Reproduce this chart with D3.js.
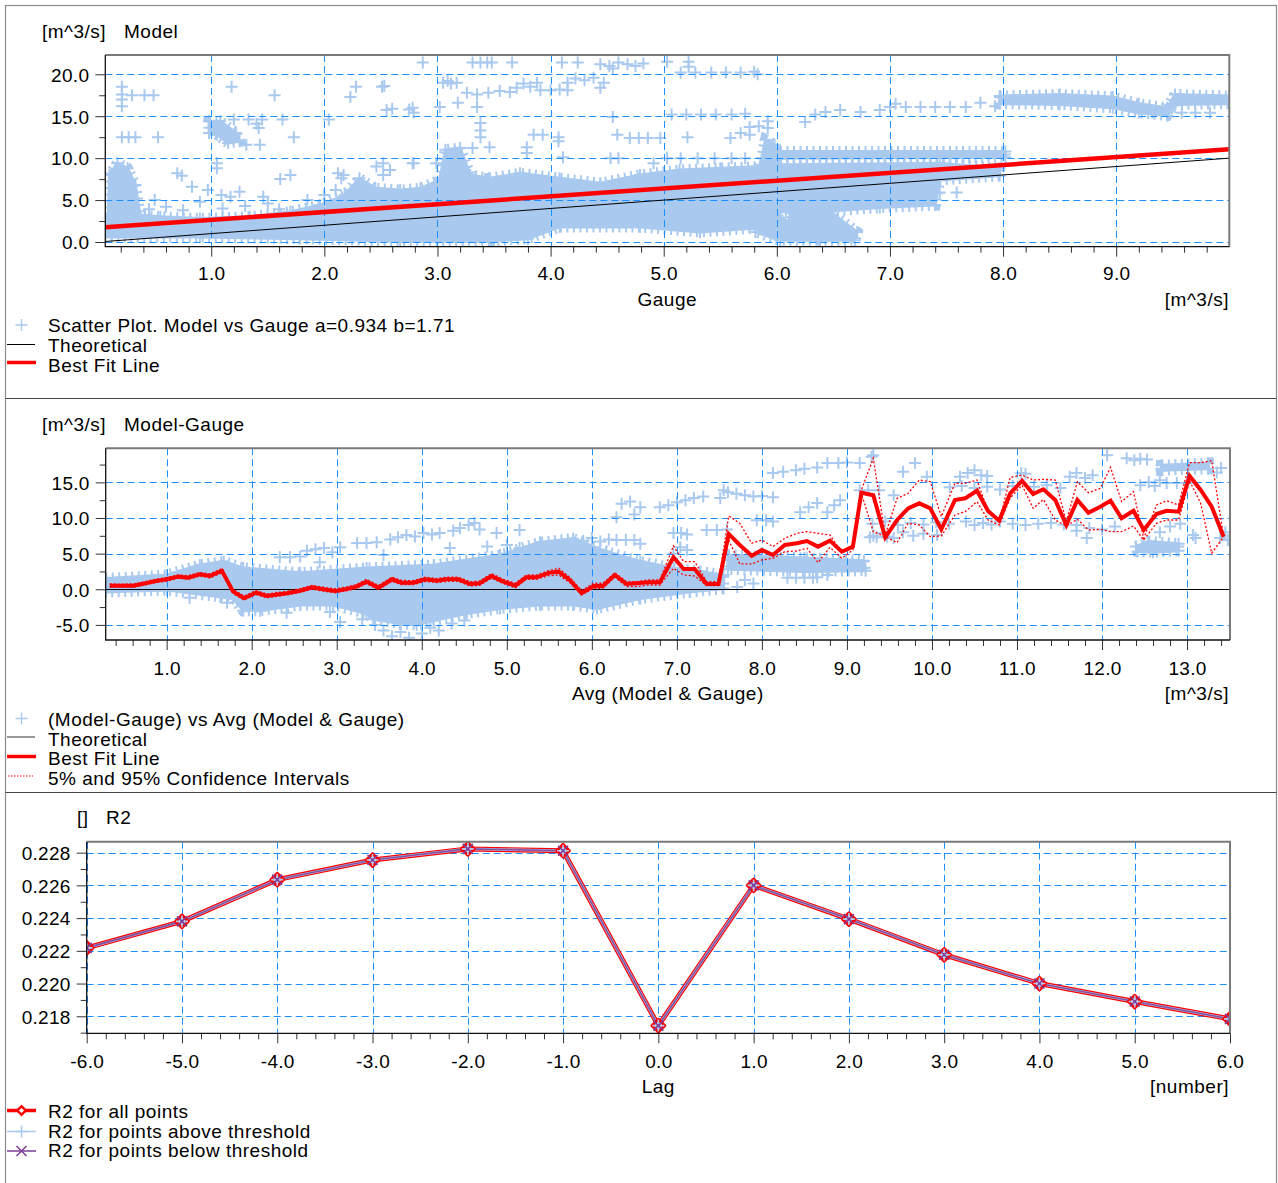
<!DOCTYPE html>
<html>
<head>
<meta charset="utf-8">
<title>Model vs Gauge</title>
<script src="https://cdn.jsdelivr.net/npm/d3@7/dist/d3.min.js"></script>
<style>
  html, body { margin: 0; padding: 0; background: #fff; }
  svg { display: block; }
  text { font-family: "Liberation Sans", Arial, Helvetica, sans-serif; font-size: 19px; fill: #000; letter-spacing: 0.5px; }
  .tick text { letter-spacing: 0.3px; }
</style>
</head>
<body>
<svg id="chart" width="1278" height="1183"></svg>
<script>
// ================= Panel 1: Model vs Gauge =================
const gaugeExtent = [0.0635, 10.0];
const modelExtent = [-0.56, 22.3];
const gaugeTicks = [1, 2, 3, 4, 5, 6, 7, 8, 9];
const modelTicks = [0, 5, 10, 15, 20];
const fitA = 0.934;
const fitB = 1.71;

// outlines of the dense clouds of overlapping points [gauge, model]
const gaugeClouds = [
  [[0.06,3.0],[0.28,3.3],[0.55,3.0],[0.90,2.8],[1.34,3.0],[1.70,3.6],[1.96,4.4],[2.18,5.6],[2.31,7.6],[2.45,6.4],[2.67,6.2],[2.85,6.4],[3.02,7.4],[3.07,11.0],[3.20,11.2],[3.29,8.0],[3.46,7.6],[3.46,0.1],[2.67,0.1],[1.78,0.4],[0.90,0.6],[0.06,0.6]],
  [[0.09,3.2],[0.10,8.0],[0.17,9.4],[0.26,8.8],[0.33,6.8],[0.37,3.2]],
  [[3.46,7.6],[3.73,8.2],[4.08,7.6],[4.44,7.0],[4.79,8.0],[5.14,8.6],[5.50,8.8],[5.85,9.0],[5.90,12.2],[5.98,11.6],[6.03,9.2],[6.03,1.2],[5.85,1.7],[5.32,1.2],[4.79,1.8],[4.08,1.8],[3.80,0.4],[3.46,0.1]],
  [[6.03,10.0],[6.03,10.8],[8.02,10.8],[8.02,10.1]],
  [[6.03,9.2],[7.44,9.4],[7.97,8.8],[7.97,7.9],[7.44,7.4],[7.40,4.4],[6.91,4.1],[6.38,3.6],[6.03,3.6]],
  [[6.12,3.6],[6.47,3.6],[6.71,1.2],[6.69,0.2],[6.38,0.2],[6.21,1.2],[6.12,2.4]],
  [[5.81,2.9],[6.21,2.4],[6.38,1.2],[6.38,0.2],[6.03,0.2],[5.81,1.2]],
  [[7.97,17.4],[8.50,17.6],[8.97,17.3],[9.20,16.5],[9.45,16.0],[9.52,17.6],[10.0,17.4],[10.0,16.5],[9.52,16.4],[9.45,15.1],[9.20,15.4],[8.97,16.0],[8.50,16.4],[7.97,16.5]],
  [[0.98,14.4],[1.08,14.4],[1.22,13.0],[1.25,12.0],[1.15,11.8],[1.05,12.8],[0.98,13.0]]
];

// scattered single points [gauge, model]
const gaugePoints = [
  [0.21,16.2],[0.21,17.0],[0.21,17.6],[0.21,18.5],[0.30,17.5],[0.41,17.5],[0.49,17.5],
  [0.21,12.5],[0.27,12.5],[0.33,12.5],[0.53,12.5],
  [1.20,14.6],[1.33,14.6],[1.45,14.6],[1.40,14.1],[1.42,13.6],[1.63,14.6],[1.73,12.5],[1.31,11.6],[1.43,11.6],
  [1.18,18.5],[1.56,17.5],
  [1.05,9.4],[1.05,8.8],[0.70,8.2],[0.74,7.9],[0.83,6.6],[0.97,6.2],[1.09,5.6],[1.17,5.4],[0.90,4.8],[1.25,6.0],[1.46,5.4],[1.61,7.5],[1.70,8.0],
  [0.15,4.5],[0.30,4.0],[0.45,3.9],[0.60,4.2],[0.75,3.8],[0.50,5.0],[1.10,4.0],[1.30,4.3],[1.50,4.6],[1.60,3.9],[1.85,5.0],[2.00,5.6],[2.10,6.2],
  [2.12,8.2],[2.15,7.6],[2.17,8.0],[2.23,17.3],[2.28,18.5],[2.04,14.6],[2.51,18.5],[2.53,18.6],[2.55,15.75],[2.60,15.9],[2.75,15.8],[2.79,15.4],
  [2.46,9.0],[2.52,9.4],[2.58,8.6],[2.52,8.0],[2.79,9.4],[2.26,5.5],[2.30,6.0],
  [2.87,21.4],[3.31,21.4],[3.38,21.4],[3.44,21.4],[3.48,21.4],[3.66,21.4],[4.10,21.4],[4.24,21.4],
  [4.44,21.2],[4.52,21.0],[4.60,21.4],[4.68,21.2],[4.75,21.0],[4.82,21.3],[4.55,20.7],[5.03,21.5],[5.22,21.5],[5.22,20.9],
  [5.15,20.2],[5.28,20.2],[5.42,20.2],[5.55,20.2],[5.68,20.2],[5.80,20.3],[5.83,20.0],
  [3.05,19.0],[3.09,19.2],[3.12,18.9],[3.17,19.0],
  [3.26,17.8],[3.35,17.6],[3.45,17.8],[3.55,18.0],
  [3.64,17.9],[3.70,18.4],[3.76,18.9],[3.82,18.5],[3.88,19.0],[3.91,18.1],[4.00,18.1],[4.08,18.2],[4.15,18.1],
  [4.15,19.0],[4.22,19.5],[4.30,19.3],[4.38,19.6],[4.47,19.0],[4.44,18.4],
  [2.78,16.0],[3.02,16.1],[3.18,16.6],[3.35,16.1],[4.55,14.9],
  [5.07,15.2],[5.20,15.2],[5.33,15.2],[5.46,15.2],[5.60,15.2],[5.72,15.3],[5.76,13.7],[5.84,13.8],[5.92,13.6],[5.92,14.4],
  [3.38,12.5],[3.38,13.3],[3.38,14.2],[3.85,12.8],[3.93,12.8],[4.07,12.0],[4.07,12.5],[4.59,12.8],[4.70,12.4],[4.78,12.4],[4.86,12.4],[4.97,12.4],[5.21,12.5],[5.59,12.4],[5.68,13.0],[5.76,12.8],
  [3.31,11.2],[3.46,11.3],[3.79,10.6],[3.79,11.3],[2.78,9.4],[2.99,9.4],[4.11,10.1],[4.53,10.0],[4.60,10.0],[4.91,9.4],
  [5.03,10.0],[5.15,10.0],[5.30,10.0],[5.45,10.0],[5.60,10.0],[5.72,10.0],
  [6.25,14.3],[6.34,15.2],[6.43,15.5],[6.56,15.75],[6.74,15.5],[6.91,15.75],
  [7.00,16.1],[7.05,16.5],[7.14,16.1],[7.27,16.1],[7.40,16.1],[7.53,16.1],[7.67,16.1],[7.80,16.6],[7.93,16.2],
  [9.32,15.4],[9.45,15.4],[9.58,15.4],[9.70,15.4],[9.83,15.4],
  [7.44,5.9],[7.59,5.9],[6.10,4.0],[6.20,5.0]
];

// ================= Panel 2: Model-Gauge vs Avg =================
const avgExtent = [0.283, 13.505];
const diffExtent = [-7.12, 19.78];
const avgTicks = [1, 2, 3, 4, 5, 6, 7, 8, 9, 10, 11, 12, 13];
const diffTicks = [-5, 0, 5, 10, 15];

// binned best-fit line with its 5% / 95% bands
const binAvg = [0.33,0.47,0.61,0.74,0.87,1.00,1.14,1.25,1.39,1.51,1.65,1.78,1.91,2.05,2.18,2.30,2.41,2.57,2.71,2.84,
  2.98,3.12,3.23,3.35,3.49,3.65,3.76,3.90,4.04,4.18,4.29,4.43,4.57,4.68,4.82,4.96,5.10,5.23,5.35,5.49,
  5.61,5.74,5.88,6.02,6.13,6.27,6.41,6.53,6.66,6.80,6.96,7.08,7.21,7.35,7.49,7.61,7.74,7.88,8.00,8.13,
  8.27,8.41,8.53,8.66,8.80,8.94,9.07,9.17,9.31,9.45,9.59,9.72,9.85,9.98,10.11,10.27,10.39,10.53,10.66,10.79,
  10.92,11.06,11.19,11.31,11.45,11.58,11.71,11.84,11.98,12.10,12.23,12.37,12.49,12.64,12.76,12.90,13.03,13.16,13.29,13.43];
const binFit = [0.50,0.50,0.50,0.80,1.15,1.40,1.77,1.63,2.10,1.87,2.60,-0.30,-1.26,-0.47,-0.94,-0.75,-0.56,-0.20,0.28,0.00,
  -0.24,0.04,0.37,1.07,0.23,1.40,0.93,0.93,1.40,1.21,1.40,1.40,0.74,0.84,1.87,1.07,0.50,1.68,1.68,2.30,
  2.47,1.30,-0.56,0.46,0.46,2.00,0.74,0.84,0.98,0.98,4.49,2.85,2.85,0.74,0.74,7.76,6.21,4.71,5.51,4.81,
  6.21,6.45,6.77,5.98,6.82,5.27,5.98,13.55,13.20,7.29,9.72,11.36,12.06,11.36,8.41,12.52,12.76,13.83,10.98,9.62,
  13.46,15.23,13.37,14.03,12.52,9.02,12.52,10.74,11.59,12.43,9.96,11.02,8.32,10.56,11.02,10.88,15.89,13.93,11.59,7.38];
const binUpper = [0.75,0.72,0.75,1.05,1.40,1.65,2.00,1.90,2.35,2.15,2.90,0.00,-0.95,-0.20,-0.65,-0.45,-0.30,0.10,0.55,0.30,
  0.05,0.35,0.65,1.40,0.55,1.70,1.25,1.20,1.70,1.50,1.70,1.70,1.05,1.15,2.20,1.40,0.85,2.00,2.00,2.60,
  2.94,1.68,-0.19,0.84,0.84,2.33,1.07,1.07,1.30,1.30,6.07,3.88,3.88,1.07,1.07,10.28,9.25,6.45,6.91,5.98,
  7.15,7.85,8.08,7.85,7.62,5.14,6.21,13.93,18.37,7.62,12.76,13.46,15.33,15.10,10.19,14.86,14.86,15.33,10.89,9.49,
  15.70,16.03,15.33,15.42,15.33,9.49,15.10,13.55,14.16,17.11,12.29,13.69,7.15,11.82,12.43,11.82,17.76,17.76,18.04,7.38];
const binLower = [0.30,0.30,0.28,0.60,0.95,1.15,1.55,1.40,1.85,1.60,2.30,-0.60,-1.50,-0.75,-1.20,-1.00,-0.80,-0.45,0.00,-0.25,
  -0.50,-0.20,0.10,0.80,-0.05,1.10,0.65,0.65,1.10,0.95,1.10,1.10,0.45,0.55,1.55,0.80,0.20,1.40,1.40,1.90,
  2.00,0.93,-0.80,0.14,0.14,1.68,0.37,0.37,0.60,0.60,2.94,2.00,1.86,0.51,0.51,6.91,3.55,3.55,4.11,4.34,
  5.28,5.37,5.75,3.74,5.89,4.34,5.51,13.46,8.08,7.38,6.54,9.26,9.02,7.38,7.48,10.43,10.89,12.29,9.72,9.02,
  12.80,14.60,11.36,12.60,9.72,8.88,9.82,8.32,8.41,8.08,8.08,8.88,6.91,9.26,9.72,9.72,15.20,12.06,5.04,7.38];

// dense clouds [avg, model-gauge]
const diffClouds = [
  [[0.28,1.5],[1.0,2.0],[1.39,3.4],[1.67,3.9],[1.90,3.0],[2.57,2.3],[3.35,3.0],[4.14,3.4],[4.92,4.8],[5.39,6.6],[5.78,7.1],[6.17,5.3],[6.57,3.9],[6.96,3.0],[7.27,2.5],[7.55,2.0],
   [7.55,0.1],[7.15,-0.4],[6.57,-1.3],[6.06,-2.7],[5.78,-2.2],[5.39,-2.2],[4.92,-2.7],[4.53,-3.4],[4.14,-4.4],[3.94,-5.0],[3.74,-4.8],[3.43,-4.2],[3.35,-3.4],[2.96,-2.2],[2.57,-2.2],[2.10,-3.0],[1.90,-3.0],[1.78,-1.3],[1.0,-0.1],[0.28,-0.4]],
  [[7.60,4.8],[8.5,4.4],[9.2,4.0],[9.22,2.6],[8.5,2.5],[7.60,2.8]],
  [[12.40,6.0],[12.55,6.7],[12.90,6.4],[12.90,5.4],[12.6,5.2],[12.42,5.3]],
  [[12.70,17.4],[13.25,17.7],[13.25,16.9],[12.70,16.7]]
];

// scattered single points [avg, model-gauge]
const diffPoints = [
  [2.33,4.5],[2.45,4.5],[2.57,4.6],[2.65,5.4],[2.75,5.6],[2.85,5.8],[2.95,5.2],[3.04,5.9],[2.80,3.8],
  [3.24,6.5],[3.35,6.5],[3.47,6.6],[3.55,4.8],[3.63,7.0],[3.72,7.3],[3.82,7.6],[3.92,7.4],[4.02,7.9],[4.12,7.7],[4.21,7.9],
  [4.37,8.2],[4.45,8.6],[4.55,9.0],[4.62,9.3],[4.68,8.4],[4.88,7.9],[5.15,8.3],[4.33,5.8],[4.77,6.0],[5.0,6.2],[5.15,5.8],
  [1.27,-1.2],[1.63,-1.1],[1.71,-1.9],[2.41,-3.3],[2.92,-3.2],[3.04,-4.6],[3.30,-4.2],[3.45,-5.0],[3.55,-5.8],[3.65,-6.6],[3.85,-6.8],[4.0,-6.2],[4.2,-5.8],[4.35,-4.8],[4.5,-4.4],[3.75,-6.0],[4.1,-5.4],
  [6.29,10.1],[6.35,12.0],[6.45,12.3],[6.57,11.5],[6.50,10.5],
  [6.80,11.5],[6.90,11.8],[7.0,12.2],[7.1,12.5],[7.2,12.8],[7.31,13.0],
  [7.51,12.8],[7.60,13.6],[7.70,13.4],[7.80,13.2],[7.90,13.0],[8.0,13.1],[8.13,12.9],[7.55,13.9],
  [8.13,16.3],[8.25,16.5],[8.40,16.7],[8.50,16.9],[8.65,17.1],
  [8.77,17.7],[8.90,17.7],[9.0,17.8],[9.15,17.7],[9.31,18.8],
  [7.35,8.3],[7.47,8.3],[7.59,8.4],[7.94,9.7],[8.05,9.7],[8.13,9.5],
  [8.45,10.8],[8.55,11.5],[8.65,12.1],[8.77,10.8],[8.85,11.8],[8.92,12.5],
  [6.96,7.9],[7.05,7.9],[7.12,7.7],[6.96,5.0],[7.04,5.9],[7.12,5.5],[6.57,6.4],[6.29,6.9],[6.40,6.9],[6.50,6.9],
  [5.9,6.8],[6.0,7.2],[6.1,6.7],[6.2,7.0],
  [7.71,0.3],[7.80,1.3],[7.90,0.8],[8.30,1.6],[8.40,1.6],[8.50,1.6],[8.60,1.6],[8.65,1.7],[8.77,2.0],
  [9.27,7.3],[9.35,7.3],[9.47,7.4],
  [9.29,18.6],[9.80,17.7],[9.66,16.5],[9.94,15.8],[10.33,15.8],[10.42,16.3],[10.5,16.7],[10.58,16.0],[10.65,15.9],
  [11.62,15.8],[11.7,16.3],[11.8,15.6],[11.89,16.0],[12.06,18.8],[12.29,18.4],[12.38,18.1],[12.45,18.3],[12.53,18.2],
  [12.45,14.6],[12.55,15.0],[12.62,14.5],[12.68,15.3],[12.76,14.9],[12.88,14.9],[13.0,14.9],[9.15,13.9],[9.25,13.9],[9.38,13.9],[9.55,13.2],
  [10.21,14.3],[10.35,14.5],[10.5,14.2],[10.65,14.4],[10.8,14.0],[10.95,14.5],[11.05,16.3],[11.1,16.2],[11.2,14.4],[11.35,14.6],[11.51,14.2],
  [9.31,7.5],[9.43,7.9],[9.55,7.2],[9.66,8.0],[9.78,7.5],[9.9,7.8],[10.06,7.6],
  [9.3,9.2],[9.45,9.5],[9.6,9.0],[9.75,9.3],[9.9,9.1],[10.05,9.4],[10.2,9.2],[10.4,9.5],[10.5,9.0],[10.6,9.3],[10.7,9.1],[10.8,9.5],[10.95,9.2],[11.1,9.0],[11.25,9.2],[11.4,9.3],[11.55,9.1],[11.7,9.0],[11.85,8.6],[12.0,8.4],[12.15,8.8],
  [11.7,8.2],[11.82,7.2],[13.1,7.2],[12.68,8.0],[12.8,8.8],[12.92,9.2],[13.07,7.6],[13.39,7.2],[13.45,8.0],[13.48,6.9],
  [12.7,16.9],[13.4,17.0],[13.35,16.4]
];

// ================= Panel 3: R2 against lag =================
const lags = [-6, -5, -4, -3, -2, -1, 0, 1, 2, 3, 4, 5, 6];
const r2All   = [0.22218, 0.22380, 0.22635, 0.22755, 0.22823, 0.22812, 0.21743, 0.22600, 0.22394, 0.22176, 0.22000, 0.21890, 0.21784];
const r2Above = [0.22218, 0.22380, 0.22635, 0.22755, 0.22823, 0.22812, 0.21743, 0.22600, 0.22394, 0.22176, 0.22000, 0.21890, 0.21784];
const r2Below = [0.22218, 0.22380, 0.22635, 0.22755, 0.22823, 0.22812, 0.21743, 0.22600, 0.22394, 0.22176, 0.22000, 0.21890, 0.21784];
const r2Extent = [0.21696, 0.22867];
const r2Ticks = [0.218, 0.220, 0.222, 0.224, 0.226, 0.228];

// ================= drawing =================
const COL = { pts: '#a9c9ef', grid: '#1e8fff', red: '#ff0000', purple: '#7d3c98', frame: '#7a7a7a', tick: '#333' };
const svg = d3.select('#chart');
const PLUS = 'M-6,0H6M0,-6V6';
const CROSS = 'M-5,-5L5,5M-5,5L5,-5';
const snap = v => Math.round(v) + 0.5;

// page frame and separators
svg.append('rect').attr('x', 5.5).attr('y', 5.5).attr('width', 1271).attr('height', 1180)
  .attr('fill', 'none').attr('stroke', '#8a8a8a').attr('stroke-width', 1.2);
[398.5, 792.5].forEach(yy => svg.append('line').attr('x1', 5.5).attr('x2', 1276.5).attr('y1', yy).attr('y2', yy)
  .attr('stroke', '#444').attr('stroke-width', 1.2));

function makePanel(box, xDom, yDom, id) {
  const x = d3.scaleLinear().domain(xDom).range([box.left, box.right]);
  const y = d3.scaleLinear().domain(yDom).range([box.bottom, box.top]);
  svg.append('clipPath').attr('id', id).append('rect')
    .attr('x', box.left).attr('y', box.top).attr('width', box.right - box.left).attr('height', box.bottom - box.top);
  const layer = svg.append('g').attr('clip-path', `url(#${id})`);
  return { x, y, box, layer };
}

function drawGrid(p, xt, yt) {
  const g = p.layer.append('g').attr('stroke', COL.grid).attr('stroke-width', 1).attr('stroke-dasharray', '7,4').attr('fill', 'none');
  g.selectAll('line.gx').data(xt).join('line').attr('class', 'gx')
    .attr('x1', d => snap(p.x(d))).attr('x2', d => snap(p.x(d))).attr('y1', p.box.top).attr('y2', p.box.bottom);
  g.selectAll('line.gy').data(yt).join('line').attr('class', 'gy')
    .attr('y1', d => snap(p.y(d))).attr('y2', d => snap(p.y(d))).attr('x1', p.box.left).attr('x2', p.box.right);
}

function drawAxes(p, o) {
  const clean = g => {
    g.attr('font-size', null).attr('font-family', null).attr('color', COL.tick);
    g.select('.domain').remove();
  };
  svg.append('g').attr('transform', `translate(0,${p.box.bottom})`)
    .call(d3.axisBottom(p.x).tickValues(o.xMinor).tickSize(6).tickFormat('')).call(clean);
  svg.append('g').attr('transform', `translate(0,${p.box.bottom})`)
    .call(d3.axisBottom(p.x).tickValues(o.xMajor).tickSize(10).tickFormat(o.xFmt)).call(clean)
    .selectAll('text').attr('y', o.xLabelDy).attr('dy', null).attr('fill', '#000');
  svg.append('g').attr('transform', `translate(${p.box.left},0)`)
    .call(d3.axisLeft(p.y).tickValues(o.yMinor).tickSize(6).tickFormat('')).call(clean);
  svg.append('g').attr('transform', `translate(${p.box.left},0)`)
    .call(d3.axisLeft(p.y).tickValues(o.yMajor).tickSize(10).tickFormat(o.yFmt)).call(clean)
    .selectAll('text').attr('x', -o.yLabelDx).attr('dy', '0.36em').attr('fill', '#000');
  // plot frame
  const b = p.box;
  svg.append('path').attr('d', `M${b.left},${b.top}H${b.right}V${b.bottom}`)
    .attr('fill', 'none').attr('stroke', COL.frame).attr('stroke-width', 2);
  svg.append('path').attr('d', `M${b.left},${b.top}V${b.bottom}H${b.right}`)
    .attr('fill', 'none').attr('stroke', '#111').attr('stroke-width', 1.3);
}

function drawScatter(p, clouds, points) {
  const g = p.layer.append('g');
  const outline = d3.line().x(d => p.x(d[0])).y(d => p.y(d[1])).curve(d3.curveLinearClosed);
  // packed markers: solid body, ragged rim of marker arms
  g.selectAll('path.rim').data(clouds).join('path').attr('class', 'rim')
    .attr('d', outline).attr('fill', 'none').attr('stroke', COL.pts).attr('stroke-width', 11).attr('stroke-dasharray', '2,4.5');
  g.selectAll('path.cloud').data(clouds).join('path').attr('class', 'cloud')
    .attr('d', outline).attr('fill', COL.pts).attr('stroke', COL.pts).attr('stroke-width', 3).attr('stroke-linejoin', 'round');
  g.selectAll('path.edge').data(clouds.flat()).join('path').attr('class', 'edge')
    .attr('d', PLUS).attr('transform', d => `translate(${p.x(d[0])},${p.y(d[1])})`)
    .attr('stroke', COL.pts).attr('stroke-width', 2).attr('fill', 'none');
  g.selectAll('path.pt').data(points).join('path').attr('class', 'pt')
    .attr('d', PLUS).attr('transform', d => `translate(${p.x(d[0])},${p.y(d[1])})`)
    .attr('stroke', COL.pts).attr('stroke-width', 2).attr('fill', 'none');
}

function text(x, y, s, anchor) {
  return svg.append('text').attr('x', x).attr('y', y).attr('text-anchor', anchor || 'start').text(s);
}

const minorBetween = (lo, hi, step, majors) => d3.range(Math.round((hi - lo) / step) + 1)
  .map(i => +(lo + i * step).toFixed(4)).filter(v => !majors.some(m => Math.abs(m - v) < 1e-6));

// ---------- Panel 1 ----------
const box1 = { left: 105.3, right: 1229.3, top: 55, bottom: 246.7 };
const p1 = makePanel(box1, gaugeExtent, modelExtent, 'clip1');
drawScatter(p1, gaugeClouds, gaugePoints);
drawGrid(p1, gaugeTicks, modelTicks);
p1.layer.append('line')
  .attr('x1', p1.x(gaugeExtent[0])).attr('y1', p1.y(gaugeExtent[0]))
  .attr('x2', p1.x(gaugeExtent[1])).attr('y2', p1.y(gaugeExtent[1]))
  .attr('stroke', '#000').attr('stroke-width', 1);
p1.layer.append('line')
  .attr('x1', p1.x(gaugeExtent[0])).attr('y1', p1.y(fitA * gaugeExtent[0] + fitB))
  .attr('x2', p1.x(gaugeExtent[1])).attr('y2', p1.y(fitA * gaugeExtent[1] + fitB))
  .attr('stroke', COL.red).attr('stroke-width', 4.5);
drawAxes(p1, {
  xMajor: gaugeTicks, xMinor: minorBetween(0.2, 9.8, 0.2, gaugeTicks), xFmt: d => d.toFixed(1), xLabelDy: 33.5,
  yMajor: modelTicks, yMinor: [2.5, 7.5, 12.5, 17.5], yFmt: d => d.toFixed(1), yLabelDx: 16
});
text(42, 38, '[m^3/s]'); text(124, 38, 'Model');
text((box1.left + box1.right) / 2, 306, 'Gauge', 'middle');
text(1229, 306, '[m^3/s]', 'end');
// legend
svg.append('path').attr('d', PLUS).attr('transform', 'translate(21.5,325)').attr('stroke', COL.pts).attr('stroke-width', 1.4).attr('fill', 'none');
text(48, 332, `Scatter Plot. Model vs Gauge a=${fitA} b=${fitB}`);
svg.append('line').attr('x1', 7).attr('x2', 35).attr('y1', 344.5).attr('y2', 344.5).attr('stroke', '#000').attr('stroke-width', 1);
text(48, 351.5, 'Theoretical');
svg.append('line').attr('x1', 7).attr('x2', 36).attr('y1', 362.5).attr('y2', 362.5).attr('stroke', COL.red).attr('stroke-width', 3.5);
text(48, 371.5, 'Best Fit Line');

// ---------- Panel 2 ----------
const box2 = { left: 105.7, right: 1230, top: 448.3, bottom: 640 };
const p2 = makePanel(box2, avgExtent, diffExtent, 'clip2');
drawScatter(p2, diffClouds, diffPoints);
drawGrid(p2, avgTicks, diffTicks);
p2.layer.append('line')
  .attr('x1', p2.x(avgExtent[0])).attr('x2', p2.x(avgExtent[1])).attr('y1', snap(p2.y(0))).attr('y2', snap(p2.y(0)))
  .attr('stroke', '#000').attr('stroke-width', 1);
const bins = binAvg.map((a, i) => ({ a, fit: binFit[i], hi: binUpper[i], lo: binLower[i] }));
const binLine = key => d3.line().x(d => p2.x(d.a)).y(d => p2.y(d[key]));
p2.layer.append('path').attr('d', binLine('hi')(bins)).attr('fill', 'none').attr('stroke', COL.red).attr('stroke-width', 1.3).attr('stroke-dasharray', '2,2');
p2.layer.append('path').attr('d', binLine('lo')(bins)).attr('fill', 'none').attr('stroke', COL.red).attr('stroke-width', 1.3).attr('stroke-dasharray', '2,2');
p2.layer.append('path').attr('d', binLine('fit')(bins)).attr('fill', 'none').attr('stroke', COL.red).attr('stroke-width', 4).attr('stroke-linejoin', 'miter');
drawAxes(p2, {
  xMajor: avgTicks, xMinor: minorBetween(0.4, 13.4, 0.2, avgTicks), xFmt: d => d.toFixed(1), xLabelDy: 35,
  yMajor: diffTicks, yMinor: [-2.5, 2.5, 7.5, 12.5, 17.5], yFmt: d => d.toFixed(1), yLabelDx: 16
});
text(42, 431, '[m^3/s]'); text(124, 431, 'Model-Gauge');
text((box2.left + box2.right) / 2, 700, 'Avg (Model & Gauge)', 'middle');
text(1229, 700, '[m^3/s]', 'end');
svg.append('path').attr('d', PLUS).attr('transform', 'translate(21.5,718.5)').attr('stroke', COL.pts).attr('stroke-width', 1.4).attr('fill', 'none');
text(48, 726, '(Model-Gauge) vs Avg (Model & Gauge)');
svg.append('line').attr('x1', 7).attr('x2', 35).attr('y1', 737).attr('y2', 737).attr('stroke', '#777').attr('stroke-width', 1.5);
text(48, 745.5, 'Theoretical');
svg.append('line').attr('x1', 7).attr('x2', 36).attr('y1', 756.5).attr('y2', 756.5).attr('stroke', COL.red).attr('stroke-width', 3.5);
text(48, 765, 'Best Fit Line');
svg.append('line').attr('x1', 8).attr('x2', 33).attr('y1', 776).attr('y2', 776).attr('stroke', COL.red).attr('stroke-width', 1).attr('stroke-dasharray', '1.5,1.5');
text(48, 784.5, '5% and 95% Confidence Intervals');

// ---------- Panel 3 ----------
const box3 = { left: 86.7, right: 1230, top: 841.7, bottom: 1033.3 };
const p3 = makePanel(box3, [lags[0], lags[lags.length - 1]], r2Extent, 'clip3');
drawGrid(p3, lags, r2Ticks);
const r2Series = lags.map((lag, i) => ({ lag, all: r2All[i], above: r2Above[i], below: r2Below[i] }));
const r2Line = key => d3.line().x(d => p3.x(d.lag)).y(d => p3.y(d[key]));
p3.layer.append('path').attr('d', r2Line('all')(r2Series)).attr('fill', 'none').attr('stroke', COL.red).attr('stroke-width', 5);
p3.layer.append('path').attr('d', r2Line('above')(r2Series)).attr('fill', 'none').attr('stroke', '#a9c9ef').attr('stroke-width', 2.6);
p3.layer.append('path').attr('d', r2Line('below')(r2Series)).attr('fill', 'none').attr('stroke', COL.purple).attr('stroke-width', 1.6).attr('stroke-opacity', 0.85);
const diamond = d3.symbol(d3.symbolSquare, 80)();
p3.layer.selectAll('path.dm').data(r2Series).join('path').attr('class', 'dm')
  .attr('d', diamond).attr('transform', d => `translate(${p3.x(d.lag)},${p3.y(d.all)}) rotate(45)`)
  .attr('fill', '#f4eef8').attr('stroke', COL.red).attr('stroke-width', 3).attr('stroke-linejoin', 'round');
p3.layer.selectAll('path.pa').data(r2Series).join('path').attr('class', 'pa')
  .attr('d', PLUS).attr('transform', d => `translate(${p3.x(d.lag)},${p3.y(d.above)})`)
  .attr('stroke', '#a9c9ef').attr('stroke-width', 1.6).attr('fill', 'none');
p3.layer.selectAll('path.pb').data(r2Series).join('path').attr('class', 'pb')
  .attr('d', CROSS).attr('transform', d => `translate(${p3.x(d.lag)},${p3.y(d.below)})`)
  .attr('stroke', COL.purple).attr('stroke-width', 1.6).attr('fill', 'none');
drawAxes(p3, {
  xMajor: lags, xMinor: minorBetween(-5.8, 5.8, 0.2, lags), xFmt: d => d.toFixed(1), xLabelDy: 35,
  yMajor: r2Ticks, yMinor: [0.217, 0.219, 0.221, 0.223, 0.225, 0.227], yFmt: d => d.toFixed(3), yLabelDx: 16
});
text(77, 824, '[]'); text(106, 824, 'R2');
text((box3.left + box3.right) / 2, 1093, 'Lag', 'middle');
text(1229, 1093, '[number]', 'end');
// legend
svg.append('line').attr('x1', 7).attr('x2', 36).attr('y1', 1110.5).attr('y2', 1110.5).attr('stroke', COL.red).attr('stroke-width', 3.5);
svg.append('path').attr('d', d3.symbol(d3.symbolSquare, 36)()).attr('transform', 'translate(21.5,1110.5) rotate(45)')
  .attr('fill', '#fff').attr('stroke', COL.red).attr('stroke-width', 2.4);
text(48, 1117.5, 'R2 for all points');
svg.append('line').attr('x1', 7).attr('x2', 36).attr('y1', 1131.5).attr('y2', 1131.5).attr('stroke', '#a9c9ef').attr('stroke-width', 1.5);
svg.append('path').attr('d', PLUS).attr('transform', 'translate(21.5,1131.5)').attr('stroke', '#a9c9ef').attr('stroke-width', 1.5).attr('fill', 'none');
text(48, 1137.5, 'R2 for points above threshold');
svg.append('line').attr('x1', 7).attr('x2', 36).attr('y1', 1151).attr('y2', 1151).attr('stroke', COL.purple).attr('stroke-width', 1.5);
svg.append('path').attr('d', CROSS).attr('transform', 'translate(21.5,1151)').attr('stroke', COL.purple).attr('stroke-width', 1.5).attr('fill', 'none');
text(48, 1157, 'R2 for points below  threshold');
</script>
</body>
</html>
